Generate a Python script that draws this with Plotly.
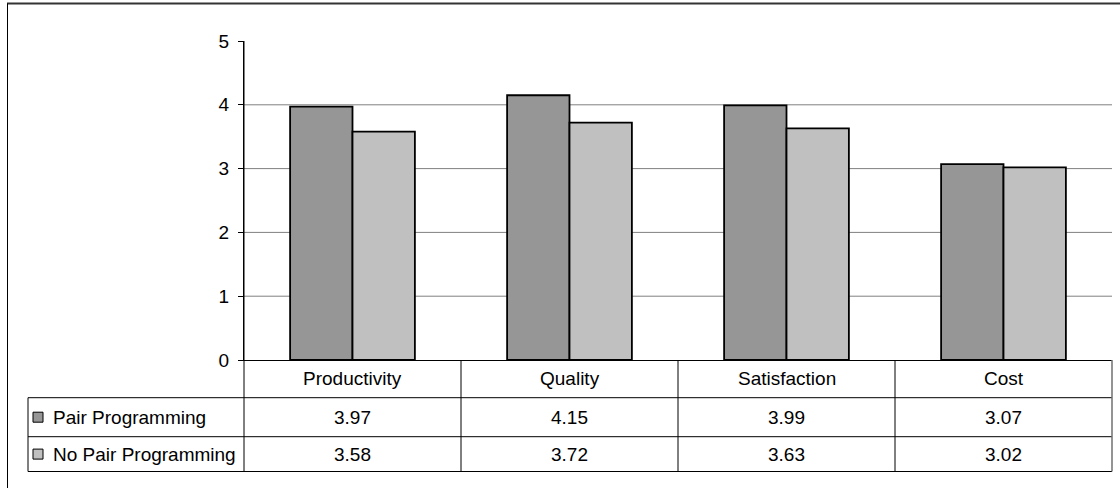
import plotly.graph_objects as go

# Survey scores, pair programming vs. no pair programming
categories = ["Productivity", "Quality", "Satisfaction", "Cost"]
series_names = ["Pair Programming", "No Pair Programming"]
pair_values = [3.97, 4.15, 3.99, 3.07]
no_pair_values = [3.58, 3.72, 3.63, 3.02]
y_ticks = [0, 1, 2, 3, 4, 5]
grid_values = [1, 2, 3, 4]

colors = ["#969696", "#C0C0C0"]
FONT = "Liberation Sans, Arial, sans-serif"
FS = 19

W, H = 1120, 488
ML, MR, MT, MB = 244, 8, 41, 128
PW, PH = W - ML - MR, H - MT - MB


def px(x):
    """Pixel x -> paper x."""
    return (x - ML) / PW


def py(y):
    """Pixel y (from top) -> paper y."""
    return (H - MB - y) / PH


fig = go.Figure()
for name, vals, col in zip(series_names, [pair_values, no_pair_values], colors):
    fig.add_trace(go.Bar(
        x=categories, y=vals, name=name,
        marker=dict(color=col, line=dict(color="#000000", width=1.8)),
        showlegend=False, hoverinfo="x+y+name",
    ))

shapes = []
# horizontal gridlines (no line at the top value)
for g in grid_values:
    shapes.append(dict(type="line", xref="paper", yref="y", x0=0, x1=1, y0=g, y1=g,
                       line=dict(color="#808080", width=1), layer="below"))

# data table geometry (pixel rows)
row_top, row1, row2, row_bot = H - MB, 397.7, 436.7, 471.5
table_left = 28
line_k = dict(color="#000000", width=1)
# horizontal table rules
for yy in [row1, row2, row_bot]:
    shapes.append(dict(type="line", xref="paper", yref="paper",
                       x0=px(table_left), x1=1, y0=py(yy), y1=py(yy), line=line_k))
# value axis extended down through the table
shapes.append(dict(type="line", xref="paper", yref="paper",
                   x0=0, x1=0, y0=1, y1=py(row_bot), line=line_k))
# table left edge
shapes.append(dict(type="line", xref="paper", yref="paper",
                   x0=px(table_left), x1=px(table_left), y0=py(row1), y1=py(row_bot), line=line_k))
# category column dividers
for i in range(1, len(categories)):
    shapes.append(dict(type="line", xref="x", yref="paper",
                       x0=i - 0.5, x1=i - 0.5, y0=0, y1=py(row_bot), line=line_k))
# table right edge
shapes.append(dict(type="line", xref="paper", yref="paper",
                   x0=1, x1=1, y0=0, y1=py(row_bot), line=dict(color="#707070", width=1.5)))

# legend keys, one per series row
row_centers = [(row1 + row2) / 2, (row2 + row_bot) / 2]
for yc, col in zip(row_centers, colors):
    shapes.append(dict(type="rect", xref="paper", yref="paper",
                       x0=px(33), x1=px(43), y0=py(yc - 5), y1=py(yc + 5),
                       fillcolor=col, line=dict(color="#000000", width=1)))
# outer chart-area border (top and left)
shapes.append(dict(type="line", xref="paper", yref="paper",
                   x0=px(7), x1=px(W + 5), y0=py(3.5), y1=py(3.5),
                   line=dict(color="#333333", width=2)))
shapes.append(dict(type="line", xref="paper", yref="paper",
                   x0=px(7.5), x1=px(7.5), y0=py(3.5), y1=py(H + 5),
                   line=dict(color="#000000", width=1)))

annotations = []
cat_center = (row_top + row1) / 2
for c in categories:
    annotations.append(dict(x=c, xref="x", y=py(cat_center), yref="paper", text=c,
                            showarrow=False, xanchor="center", yanchor="middle",
                            font=dict(family=FONT, size=FS, color="#000000")))
for yc, name, vals in zip(row_centers, series_names, [pair_values, no_pair_values]):
    annotations.append(dict(x=px(51), xref="paper", y=py(yc), yref="paper", text=name,
                            showarrow=False, xanchor="left", yanchor="middle",
                            font=dict(family=FONT, size=FS, color="#000000")))
    for c, v in zip(categories, vals):
        annotations.append(dict(x=c, xref="x", y=py(yc), yref="paper", text=f"{v:.2f}",
                                showarrow=False, xanchor="center", yanchor="middle",
                                font=dict(family=FONT, size=FS, color="#000000")))

fig.update_layout(
    width=W, height=H,
    margin=dict(l=ML, r=MR, t=MT, b=MB, pad=0),
    paper_bgcolor="#FFFFFF", plot_bgcolor="#FFFFFF",
    barmode="group", bargap=0.425, bargroupgap=0,
    font=dict(family=FONT, size=FS, color="#000000"),
    shapes=shapes, annotations=annotations,
    xaxis=dict(showticklabels=False, ticks="", showgrid=False, zeroline=False,
               showline=True, linecolor="#000000", linewidth=1),
    yaxis=dict(range=[0, 5], tickvals=y_ticks, showgrid=False, zeroline=False,
               showline=True, linecolor="#000000", linewidth=1,
               ticks="outside", ticklen=5, tickcolor="#000000",
               ticklabelstandoff=5,
               tickfont=dict(family=FONT, size=FS, color="#000000")),
)

fig.write_html("out.html")
